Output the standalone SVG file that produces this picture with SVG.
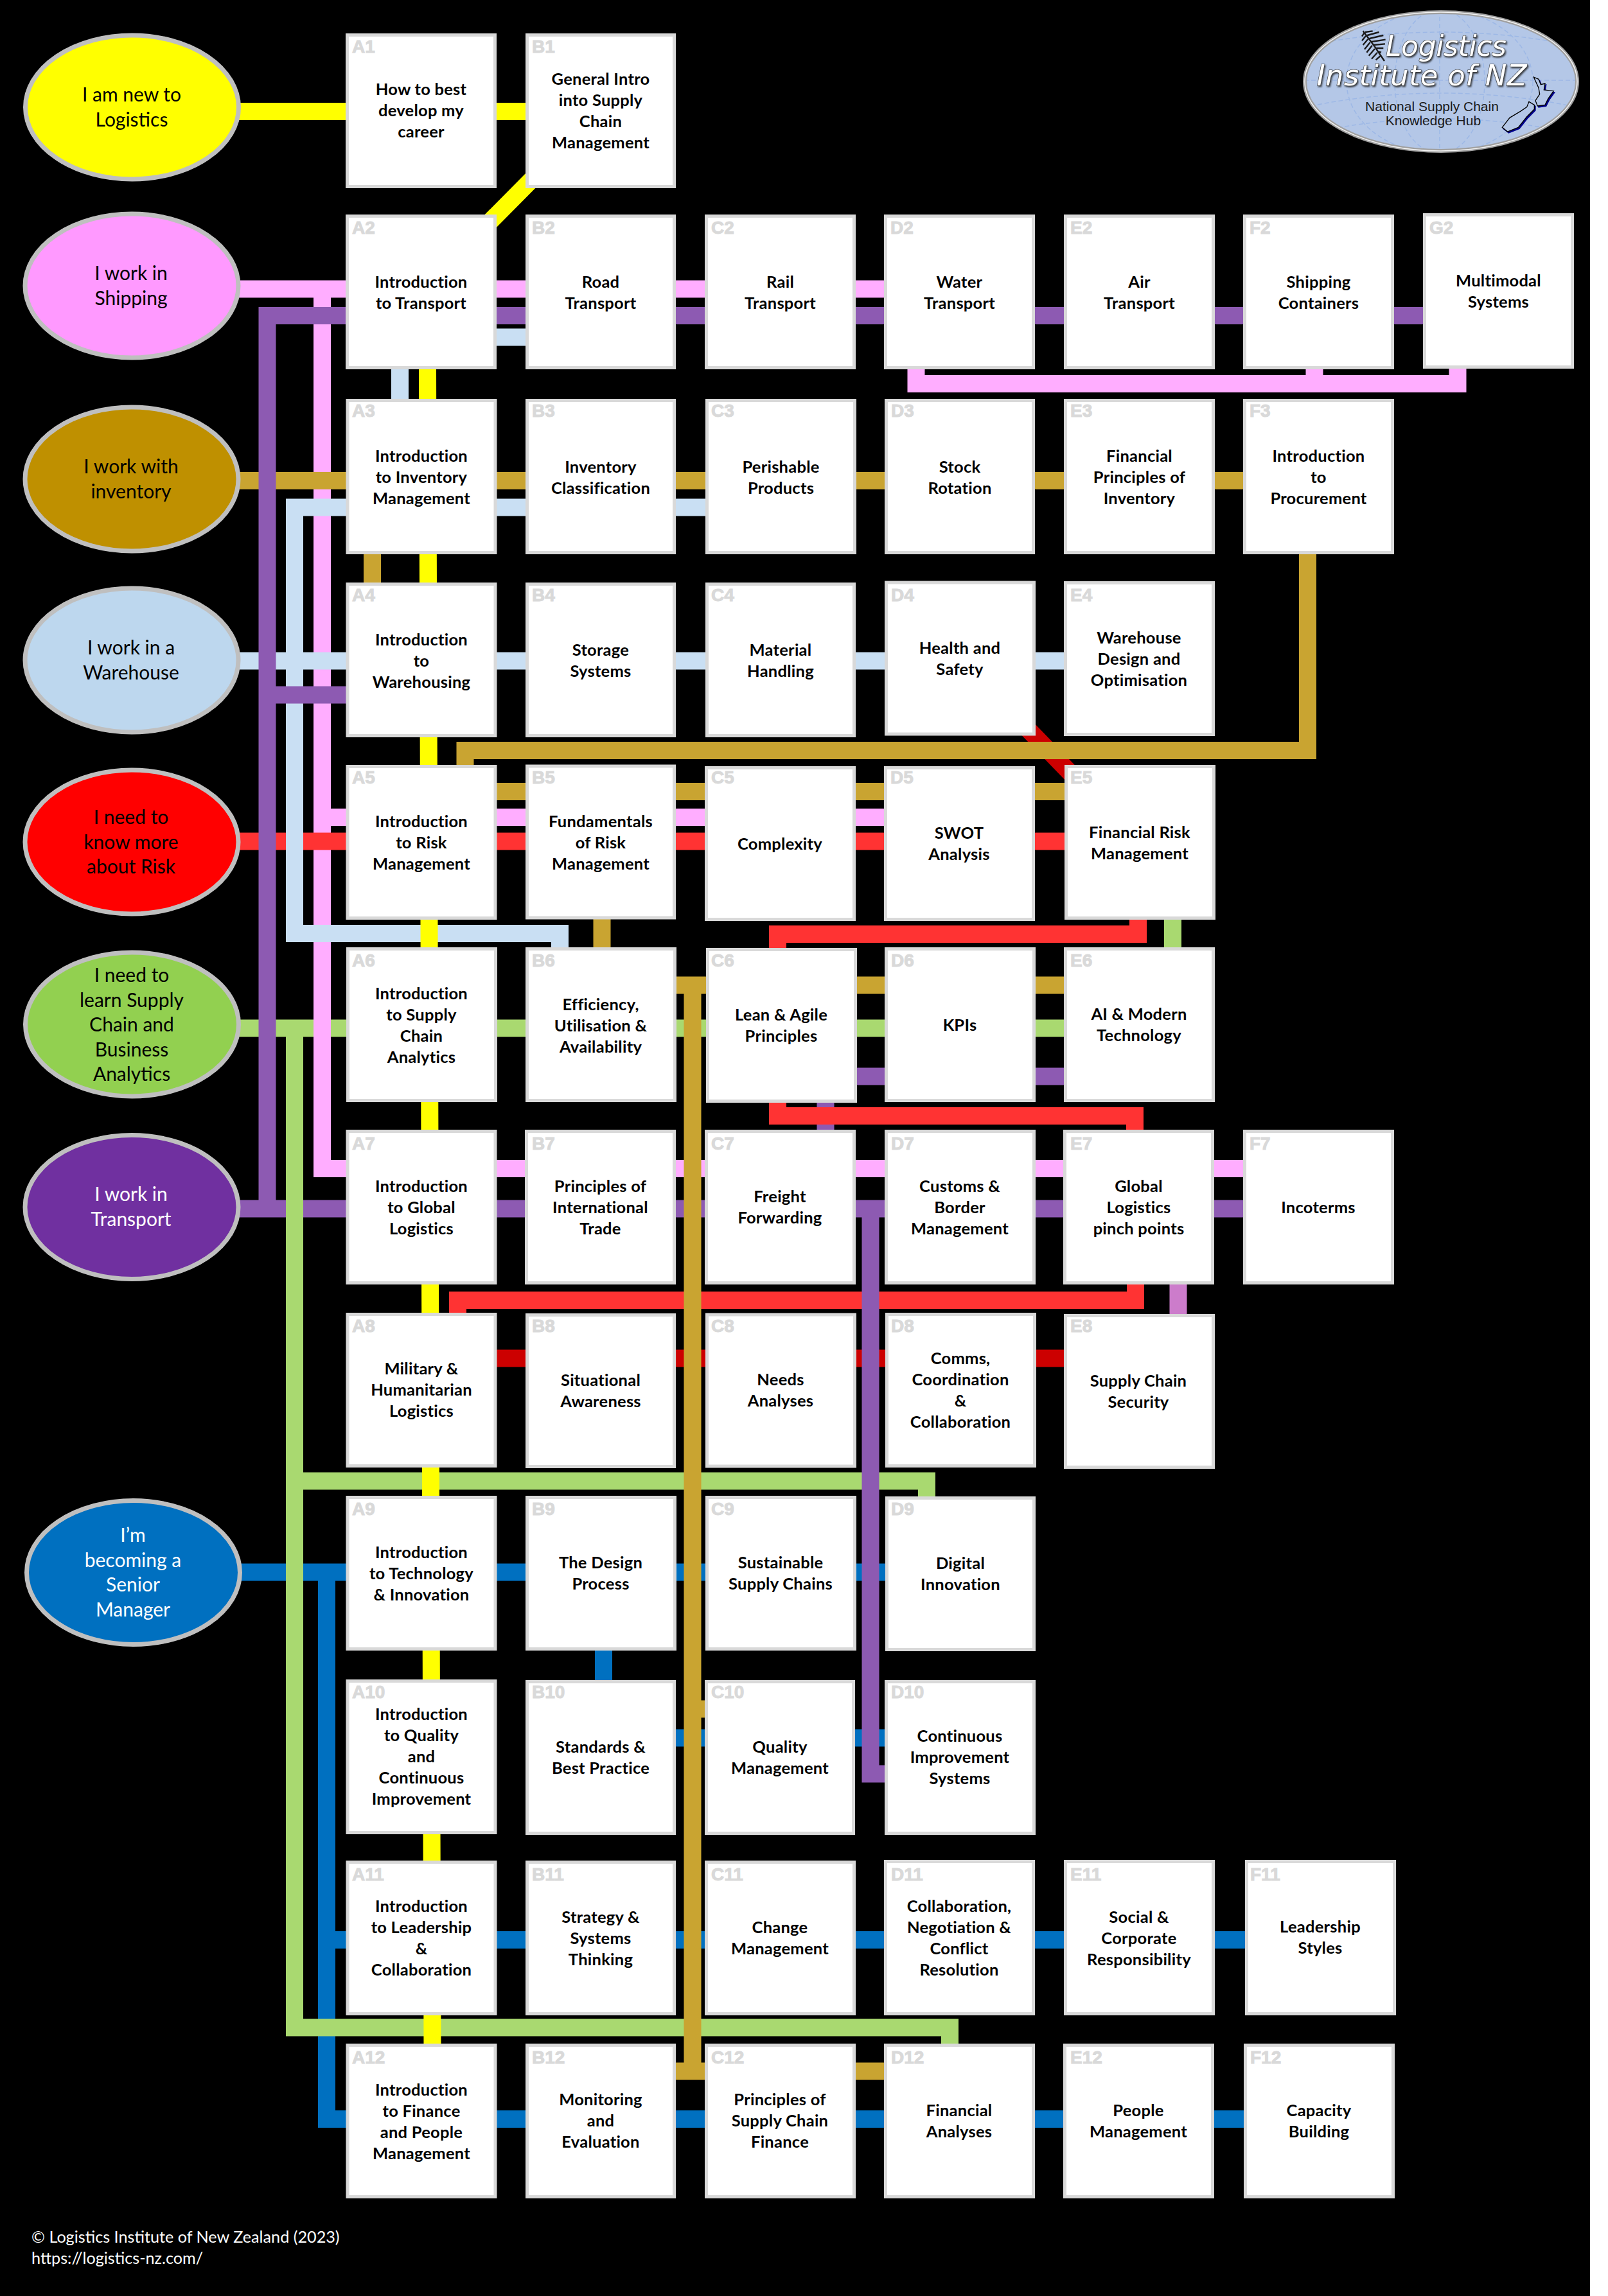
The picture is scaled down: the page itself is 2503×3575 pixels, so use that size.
<svg xmlns="http://www.w3.org/2000/svg" width="2503" height="3575" viewBox="0 0 2503 3575">
<style>
.bg{fill:#000}
.c path{fill:none;stroke-width:27;stroke-linejoin:miter}
.blue{stroke:#0070c0}.green{stroke:#a9d970}.pink{stroke:#ffadff}.red{stroke:#ff3333}.dred{stroke:#cc0000}.gold{stroke:#c9a431}.lblue{stroke:#c9dff3}.purple{stroke:#8d5ab2}.lilac{stroke:#cc7ccb}.yellow{stroke:#ffff00}
.b{fill:#fff;stroke:#d9d9d9;stroke-width:5}
.l{font-family:"Liberation Sans",Arial,sans-serif;font-weight:700;font-size:28px;fill:#d9d9d9;stroke:#d9d9d9;stroke-width:1}
.t{font-family:Lato,"Noto Sans",sans-serif;font-weight:700;font-size:25.5px;letter-spacing:.25px;fill:#000;text-anchor:middle}
.e{stroke:#bfbfbf;stroke-width:7}
.et{font-family:Lato,"Noto Sans",sans-serif;font-size:30px;fill:#000;text-anchor:middle}
.w{fill:#fff}
.f{font-family:Lato,"Noto Sans",sans-serif;font-size:25.2px;fill:#fff}
.g{fill:none;stroke:#9db8e6;stroke-width:1.5;stroke-dasharray:7 4}
.lt{font-family:"DejaVu Sans",sans-serif;font-style:italic;fill:#fff;stroke:#333;stroke-width:1.2;paint-order:stroke;text-anchor:middle}
.ls{font-family:"Liberation Sans",Arial,sans-serif;font-size:21px;fill:#1a1a1a;text-anchor:middle}
</style>
<defs>
<clipPath id="lc"><ellipse cx="2243" cy="127" rx="212" ry="108"/></clipPath>
<filter id="sh" x="-10%" y="-20%" width="120%" height="140%"><feDropShadow dx="1.5" dy="2" stdDeviation="1" flood-color="#222" flood-opacity=".8"/></filter>
</defs>
<rect width="2503" height="3575" fill="#fff"/>
<rect class="bg" width="2475" height="3575"/>

<g id="connectors" class="c">
<path class="blue" d="M370 2448H1390M508.5 2448V3299.5H1950M508.5 3020.5H1950M939.5 2560V2706H1390"/>
<path class="purple" d="M370 1882H1945M1285 1710V1765"/>
<path class="green" d="M370 1601H1670M458.5 1601V3157H1478.5V3190M458.5 2306H1442.5V2340M1825.5 1425V1485"/>
<path class="pink" d="M370 450H1390M501.5 450V1819.5H1945M501.5 1272.5H1390M1426 570V597.5H2269V570M2046 597.5V570"/>
<path class="dred" d="M765 2115H1670M1590 1125L1680 1218"/>
<path class="red" d="M370 1310H1670M1771.5 1425V1454.5H1210.5V1485M1210.5 1710V1737.5H1766.5V1770M1767.5 1990V2024.5H712.5V2055"/>
<path class="gold" d="M370 748.5H1945M579.5 855V915M2035.5 855V1168.5H724V1200M760 1232.5H1670M937 1425V1485"/>
<path class="lblue" d="M1110 790H458.5V1453.5H871.5V1490M370 1029H1670M622.5 570V630M765 525H830"/>
<path class="purple" d="M416 1882V491.5H2225M416 1082H545M1355 1882V2762H1390M1325 1676H1670"/>
<path class="gold" d="M1040 1534H1670M1078 1534V3225M1040 3225H1390M1078 2661H1110"/>
<path class="lilac" d="M1834 1990V2055"/>
<path class="yellow" d="M370 173.5H830M845 262L745 363M665.5 570L673 3190"/>
</g>

<g id="p1"><ellipse class="e" cx="205.500" cy="167" rx="166" ry="112" fill="#ffff00"/><text class="et" x="205" y="158">I am new to<tspan x="205" dy="39">Logistics</tspan></text></g>
<g id="p2"><ellipse class="e" cx="205" cy="445" rx="166" ry="112" fill="#ff99ff"/><text class="et" x="204" y="436">I work in<tspan x="204" dy="39">Shipping</tspan></text></g>
<g id="p3"><ellipse class="e" cx="205" cy="746" rx="166" ry="112" fill="#bf9000"/><text class="et" x="204" y="737">I work with<tspan x="204" dy="39">inventory</tspan></text></g>
<g id="p4"><ellipse class="e" cx="205" cy="1028" rx="166" ry="112" fill="#bdd7ee"/><text class="et" x="204" y="1019">I work in a<tspan x="204" dy="39">Warehouse</tspan></text></g>
<g id="p5"><ellipse class="e" cx="205" cy="1311" rx="166" ry="112" fill="#ff0000"/><text class="et" x="204" y="1283">I need to<tspan x="204" dy="39">know more</tspan><tspan x="204" dy="38">about Risk</tspan></text></g>
<g id="p6"><ellipse class="e" cx="205.500" cy="1595" rx="166" ry="112" fill="#92d050"/><text class="et" x="205" y="1529">I need to<tspan x="205" dy="39">learn Supply</tspan><tspan x="205" dy="38">Chain and</tspan><tspan x="205" dy="39">Business</tspan><tspan x="205" dy="38">Analytics</tspan></text></g>
<g id="p7"><ellipse class="e" cx="205" cy="1879.500" rx="166" ry="112" fill="#7030a0"/><text class="et w" x="204" y="1870">I work in<tspan x="204" dy="39">Transport</tspan></text></g>
<g id="p8"><ellipse class="e" cx="207.500" cy="2448.500" rx="166" ry="112" fill="#0070c0"/><text class="et w" x="207" y="2401">I’m<tspan x="207" dy="39">becoming a</tspan><tspan x="207" dy="38">Senior</tspan><tspan x="207" dy="39">Manager</tspan></text></g>

<g id="A1"><rect class="b" x="540.500" y="54.500" width="230" height="236"/><text class="l" x="548" y="82">A1</text><text class="t" x="655.500" y="148">How to best<tspan x="655.500" dy="33">develop my</tspan><tspan x="655.500" dy="33">career</tspan></text></g>
<g id="B1"><rect class="b" x="820.500" y="54.500" width="229" height="236"/><text class="l" x="828" y="82">B1</text><text class="t" x="935" y="132">General Intro<tspan x="935" dy="33">into Supply</tspan><tspan x="935" dy="33">Chain</tspan><tspan x="935" dy="33">Management</tspan></text></g>

<g id="A2"><rect class="b" x="540.500" y="336.500" width="230" height="236"/><text class="l" x="548" y="364">A2</text><text class="t" x="655.500" y="448">Introduction<tspan x="655.500" dy="33">to Transport</tspan></text></g>
<g id="B2"><rect class="b" x="820.500" y="336.500" width="229" height="236"/><text class="l" x="828" y="364">B2</text><text class="t" x="935" y="448">Road<tspan x="935" dy="33">Transport</tspan></text></g>
<g id="C2"><rect class="b" x="1099.500" y="336.500" width="230" height="236"/><text class="l" x="1107" y="364">C2</text><text class="t" x="1214.500" y="448">Rail<tspan x="1214.500" dy="33">Transport</tspan></text></g>
<g id="D2"><rect class="b" x="1378.500" y="336.500" width="230" height="236"/><text class="l" x="1386" y="364">D2</text><text class="t" x="1493.500" y="448">Water<tspan x="1493.500" dy="33">Transport</tspan></text></g>
<g id="E2"><rect class="b" x="1658.500" y="336.500" width="230" height="236"/><text class="l" x="1666" y="364">E2</text><text class="t" x="1773.500" y="448">Air<tspan x="1773.500" dy="33">Transport</tspan></text></g>
<g id="F2"><rect class="b" x="1937.500" y="336.500" width="230" height="236"/><text class="l" x="1945" y="364">F2</text><text class="t" x="2052.500" y="448">Shipping<tspan x="2052.500" dy="33">Containers</tspan></text></g>
<g id="G2"><rect class="b" x="2217.500" y="334.500" width="230" height="237"/><text class="l" x="2225" y="364">G2</text><text class="t" x="2332.500" y="446">Multimodal<tspan x="2332.500" dy="33">Systems</tspan></text></g>

<g id="A3"><rect class="b" x="541" y="623.500" width="230" height="237"/><text class="l" x="548" y="649">A3</text><text class="t" x="656" y="719">Introduction<tspan x="656" dy="33">to Inventory</tspan><tspan x="656" dy="33">Management</tspan></text></g>
<g id="B3"><rect class="b" x="820.500" y="623.500" width="229" height="237"/><text class="l" x="828" y="649">B3</text><text class="t" x="935" y="736">Inventory<tspan x="935" dy="33">Classification</tspan></text></g>
<g id="C3"><rect class="b" x="1100.500" y="623.500" width="230" height="237"/><text class="l" x="1107" y="649">C3</text><text class="t" x="1215.500" y="736">Perishable<tspan x="1215.500" dy="33">Products</tspan></text></g>
<g id="D3"><rect class="b" x="1379.500" y="623.500" width="229" height="237"/><text class="l" x="1387" y="649">D3</text><text class="t" x="1494" y="736">Stock<tspan x="1494" dy="33">Rotation</tspan></text></g>
<g id="E3"><rect class="b" x="1658.500" y="623.500" width="230" height="237"/><text class="l" x="1666" y="649">E3</text><text class="t" x="1773.500" y="719">Financial<tspan x="1773.500" dy="33">Principles of</tspan><tspan x="1773.500" dy="33">Inventory</tspan></text></g>
<g id="F3"><rect class="b" x="1937.500" y="623.500" width="230" height="237"/><text class="l" x="1945" y="649">F3</text><text class="t" x="2052.500" y="719">Introduction<tspan x="2052.500" dy="33">to</tspan><tspan x="2052.500" dy="33">Procurement</tspan></text></g>

<g id="A4"><rect class="b" x="541" y="909.500" width="230" height="236"/><text class="l" x="548" y="936">A4</text><text class="t" x="656" y="1005">Introduction<tspan x="656" dy="33">to</tspan><tspan x="656" dy="33">Warehousing</tspan></text></g>
<g id="B4"><rect class="b" x="820.500" y="909.500" width="229" height="236"/><text class="l" x="828" y="936">B4</text><text class="t" x="935" y="1021">Storage<tspan x="935" dy="33">Systems</tspan></text></g>
<g id="C4"><rect class="b" x="1100.500" y="909.500" width="229" height="236"/><text class="l" x="1107" y="936">C4</text><text class="t" x="1215" y="1021">Material<tspan x="1215" dy="33">Handling</tspan></text></g>
<g id="D4"><rect class="b" x="1379.500" y="907" width="230" height="236"/><text class="l" x="1387" y="936">D4</text><text class="t" x="1494" y="1018">Health and<tspan x="1494" dy="33">Safety</tspan></text></g>
<g id="E4"><rect class="b" x="1658.500" y="907.500" width="230" height="236"/><text class="l" x="1666" y="936">E4</text><text class="t" x="1773" y="1002">Warehouse<tspan x="1773" dy="33">Design and</tspan><tspan x="1773" dy="33">Optimisation</tspan></text></g>

<g id="A5"><rect class="b" x="541" y="1193.500" width="230" height="236"/><text class="l" x="548" y="1220">A5</text><text class="t" x="656" y="1287.500">Introduction<tspan x="656" dy="33">to Risk</tspan><tspan x="656" dy="33">Management</tspan></text></g>
<g id="B5"><rect class="b" x="820.500" y="1193" width="229" height="236"/><text class="l" x="828" y="1220">B5</text><text class="t" x="935" y="1287.500">Fundamentals<tspan x="935" dy="33">of Risk</tspan><tspan x="935" dy="33">Management</tspan></text></g>
<g id="C5"><rect class="b" x="1099.500" y="1195.500" width="230" height="236"/><text class="l" x="1107" y="1220">C5</text><text class="t" x="1214" y="1322.500">Complexity</text></g>
<g id="D5"><rect class="b" x="1378.500" y="1195.500" width="230" height="236"/><text class="l" x="1386" y="1220">D5</text><text class="t" x="1493" y="1306">SWOT<tspan x="1493" dy="33">Analysis</tspan></text></g>
<g id="E5"><rect class="b" x="1659.500" y="1193.500" width="230" height="236"/><text class="l" x="1666" y="1220">E5</text><text class="t" x="1774" y="1305">Financial Risk<tspan x="1774" dy="33">Management</tspan></text></g>

<g id="A6"><rect class="b" x="541.500" y="1477.500" width="230" height="236"/><text class="l" x="548" y="1505">A6</text><text class="t" x="656" y="1555.500">Introduction<tspan x="656" dy="33">to Supply</tspan><tspan x="656" dy="33">Chain</tspan><tspan x="656" dy="33">Analytics</tspan></text></g>
<g id="B6"><rect class="b" x="820.500" y="1477.500" width="230" height="236"/><text class="l" x="828" y="1505">B6</text><text class="t" x="935" y="1573">Efficiency,<tspan x="935" dy="33">Utilisation &amp;</tspan><tspan x="935" dy="33">Availability</tspan></text></g>
<g id="C6"><rect class="b" x="1101.500" y="1478.500" width="230" height="236"/><text class="l" x="1107" y="1505">C6</text><text class="t" x="1216" y="1589">Lean &amp; Agile<tspan x="1216" dy="33">Principles</tspan></text></g>
<g id="D6"><rect class="b" x="1379.500" y="1477.500" width="230" height="236"/><text class="l" x="1387" y="1505">D6</text><text class="t" x="1494" y="1605">KPIs</text></g>
<g id="E6"><rect class="b" x="1658.500" y="1477.500" width="230" height="236"/><text class="l" x="1666" y="1505">E6</text><text class="t" x="1773" y="1588">AI &amp; Modern<tspan x="1773" dy="33">Technology</tspan></text></g>

<g id="A7"><rect class="b" x="541" y="1761.500" width="230" height="236"/><text class="l" x="548" y="1790">A7</text><text class="t" x="656" y="1856">Introduction<tspan x="656" dy="33">to Global</tspan><tspan x="656" dy="33">Logistics</tspan></text></g>
<g id="B7"><rect class="b" x="819.500" y="1761.500" width="230" height="236"/><text class="l" x="828" y="1790">B7</text><text class="t" x="934.500" y="1856">Principles of<tspan x="934.500" dy="33">International</tspan><tspan x="934.500" dy="33">Trade</tspan></text></g>
<g id="C7"><rect class="b" x="1099.500" y="1761.500" width="230" height="236"/><text class="l" x="1107" y="1790">C7</text><text class="t" x="1214" y="1872">Freight<tspan x="1214" dy="33">Forwarding</tspan></text></g>
<g id="D7"><rect class="b" x="1379.500" y="1761.500" width="230" height="236"/><text class="l" x="1387" y="1790">D7</text><text class="t" x="1494" y="1856">Customs &amp;<tspan x="1494" dy="33">Border</tspan><tspan x="1494" dy="33">Management</tspan></text></g>
<g id="E7"><rect class="b" x="1657.500" y="1761.500" width="230" height="236"/><text class="l" x="1666" y="1790">E7</text><text class="t" x="1772.500" y="1856">Global<tspan x="1772.500" dy="33">Logistics</tspan><tspan x="1772.500" dy="33">pinch points</tspan></text></g>
<g id="F7"><rect class="b" x="1937.500" y="1761.500" width="230" height="236"/><text class="l" x="1945" y="1790">F7</text><text class="t" x="2052" y="1889">Incoterms</text></g>

<g id="A8"><rect class="b" x="541" y="2046.500" width="230" height="236"/><text class="l" x="548" y="2074">A8</text><text class="t" x="656" y="2140">Military &amp;<tspan x="656" dy="33">Humanitarian</tspan><tspan x="656" dy="33">Logistics</tspan></text></g>
<g id="B8"><rect class="b" x="820.500" y="2047.500" width="229" height="236"/><text class="l" x="828" y="2074">B8</text><text class="t" x="935" y="2158">Situational<tspan x="935" dy="33">Awareness</tspan></text></g>
<g id="C8"><rect class="b" x="1100.500" y="2047" width="230" height="236"/><text class="l" x="1107" y="2074">C8</text><text class="t" x="1215" y="2157">Needs<tspan x="1215" dy="33">Analyses</tspan></text></g>
<g id="D8"><rect class="b" x="1380.500" y="2046.500" width="230" height="236"/><text class="l" x="1387" y="2074">D8</text><text class="t" x="1495" y="2124">Comms,<tspan x="1495" dy="33">Coordination</tspan><tspan x="1495" dy="33">&amp;</tspan><tspan x="1495" dy="33">Collaboration</tspan></text></g>
<g id="E8"><rect class="b" x="1658.500" y="2048.500" width="230" height="236"/><text class="l" x="1666" y="2074">E8</text><text class="t" x="1772" y="2159">Supply Chain<tspan x="1772" dy="33">Security</tspan></text></g>

<g id="A9"><rect class="b" x="541" y="2331.500" width="230" height="236"/><text class="l" x="548" y="2359">A9</text><text class="t" x="656" y="2426">Introduction<tspan x="656" dy="33">to Technology</tspan><tspan x="656" dy="33">&amp; Innovation</tspan></text></g>
<g id="B9"><rect class="b" x="820.500" y="2331.500" width="230" height="236"/><text class="l" x="828" y="2359">B9</text><text class="t" x="935" y="2442">The Design<tspan x="935" dy="33">Process</tspan></text></g>
<g id="C9"><rect class="b" x="1100.500" y="2331.500" width="230" height="236"/><text class="l" x="1107" y="2359">C9</text><text class="t" x="1215" y="2442">Sustainable<tspan x="1215" dy="33">Supply Chains</tspan></text></g>
<g id="D9"><rect class="b" x="1380.500" y="2332.500" width="229" height="236"/><text class="l" x="1387" y="2359">D9</text><text class="t" x="1495" y="2443">Digital<tspan x="1495" dy="33">Innovation</tspan></text></g>

<g id="A10"><rect class="b" x="541" y="2617.500" width="230" height="236"/><text class="l" x="548" y="2644">A10</text><text class="t" x="656" y="2678">Introduction<tspan x="656" dy="33">to Quality</tspan><tspan x="656" dy="33">and</tspan><tspan x="656" dy="33">Continuous</tspan><tspan x="656" dy="33">Improvement</tspan></text></g>
<g id="B10"><rect class="b" x="820.500" y="2618.500" width="229" height="236"/><text class="l" x="828" y="2644">B10</text><text class="t" x="935" y="2729">Standards &amp;<tspan x="935" dy="33">Best Practice</tspan></text></g>
<g id="C10"><rect class="b" x="1099.500" y="2618.500" width="229" height="236"/><text class="l" x="1107" y="2644">C10</text><text class="t" x="1214" y="2729">Quality<tspan x="1214" dy="33">Management</tspan></text></g>
<g id="D10"><rect class="b" x="1379.500" y="2618.500" width="230" height="236"/><text class="l" x="1387" y="2644">D10</text><text class="t" x="1494" y="2712">Continuous<tspan x="1494" dy="33">Improvement</tspan><tspan x="1494" dy="33">Systems</tspan></text></g>

<g id="A11"><rect class="b" x="541" y="2899.500" width="230" height="236"/><text class="l" x="548" y="2928">A11</text><text class="t" x="656" y="2977">Introduction<tspan x="656" dy="33">to Leadership</tspan><tspan x="656" dy="33">&amp;</tspan><tspan x="656" dy="33">Collaboration</tspan></text></g>
<g id="B11"><rect class="b" x="820.500" y="2899.500" width="229" height="236"/><text class="l" x="828" y="2928">B11</text><text class="t" x="935" y="2994">Strategy &amp;<tspan x="935" dy="33">Systems</tspan><tspan x="935" dy="33">Thinking</tspan></text></g>
<g id="C11"><rect class="b" x="1099.500" y="2899.500" width="230" height="236"/><text class="l" x="1107" y="2928">C11</text><text class="t" x="1214" y="3010">Change<tspan x="1214" dy="33">Management</tspan></text></g>
<g id="D11"><rect class="b" x="1378.500" y="2898.500" width="230" height="237"/><text class="l" x="1387" y="2928">D11</text><text class="t" x="1493" y="2977">Collaboration,<tspan x="1493" dy="33">Negotiation &amp;</tspan><tspan x="1493" dy="33">Conflict</tspan><tspan x="1493" dy="33">Resolution</tspan></text></g>
<g id="E11"><rect class="b" x="1658.500" y="2898.500" width="230" height="237"/><text class="l" x="1666" y="2928">E11</text><text class="t" x="1773" y="2993.500">Social &amp;<tspan x="1773" dy="33">Corporate</tspan><tspan x="1773" dy="33">Responsibility</tspan></text></g>
<g id="F11"><rect class="b" x="1940.500" y="2898.500" width="230" height="237"/><text class="l" x="1946" y="2928">F11</text><text class="t" x="2055" y="3009">Leadership<tspan x="2055" dy="33">Styles</tspan></text></g>

<g id="A12"><rect class="b" x="541" y="3184.500" width="230" height="236"/><text class="l" x="548" y="3213">A12</text><text class="t" x="656" y="3262.500">Introduction<tspan x="656" dy="33">to Finance</tspan><tspan x="656" dy="33">and People</tspan><tspan x="656" dy="33">Management</tspan></text></g>
<g id="B12"><rect class="b" x="820.500" y="3184.500" width="229" height="236"/><text class="l" x="828" y="3213">B12</text><text class="t" x="935" y="3278">Monitoring<tspan x="935" dy="33">and</tspan><tspan x="935" dy="33">Evaluation</tspan></text></g>
<g id="C12"><rect class="b" x="1099.500" y="3184.500" width="230" height="236"/><text class="l" x="1107" y="3213">C12</text><text class="t" x="1214" y="3278">Principles of<tspan x="1214" dy="33">Supply Chain</tspan><tspan x="1214" dy="33">Finance</tspan></text></g>
<g id="D12"><rect class="b" x="1378.500" y="3184.500" width="230" height="236"/><text class="l" x="1387" y="3213">D12</text><text class="t" x="1493" y="3295">Financial<tspan x="1493" dy="33">Analyses</tspan></text></g>
<g id="E12"><rect class="b" x="1657.500" y="3184.500" width="230" height="236"/><text class="l" x="1666" y="3213">E12</text><text class="t" x="1772" y="3295">People<tspan x="1772" dy="33">Management</tspan></text></g>
<g id="F12"><rect class="b" x="1938.500" y="3184.500" width="230" height="236"/><text class="l" x="1946" y="3213">F12</text><text class="t" x="2053" y="3295">Capacity<tspan x="2053" dy="33">Building</tspan></text></g>

<g id="logo">
<ellipse cx="2243" cy="127" rx="212" ry="108" fill="#b4c7e7"/>
<g clip-path="url(#lc)">
<path class="g" d="M2030 125H2456M2241 15V240"/>
<ellipse class="g" cx="2241" cy="127" rx="70" ry="112"/>
<ellipse class="g" cx="2241" cy="127" rx="145" ry="112"/>
<path class="g" d="M2040 70Q2243 30 2446 70M2040 165Q2243 125 2446 165M2050 205Q2243 165 2436 205"/>
</g>
<ellipse cx="2243" cy="127" rx="212" ry="108" fill="none" stroke="#a0a0a0" stroke-width="6"/>
<ellipse cx="2243" cy="127" rx="212" ry="108" fill="none" stroke="#f2f2f2" stroke-width="1.5"/>
<g transform="translate(2000 0) scale(.33333)">
<path d="M465 285Q420 215 365 145M375 150L410 145M385 165L440 150M395 180L460 165M405 195L470 185M415 210L468 205M425 225L460 225M435 240L450 245M370 155L360 170M378 168L360 190M388 183L365 210M398 198L372 230M408 212L382 245M420 228L392 260M432 245L405 275M445 262L425 280" fill="none" stroke="#1a1a1a" stroke-width="7"/>
<path transform="translate(5 6)" d="M1162 360L1185 370L1195 395L1215 390L1210 420L1255 425L1230 460L1215 490L1180 495L1170 470L1190 440L1185 410ZM1140 475L1165 490L1165 510L1130 545L1090 595L1040 615L1015 595L1050 550L1100 520L1130 500Z" fill="#00008b" stroke="#00008b" stroke-width="4"/>
<path d="M1162 360L1185 370L1195 395L1215 390L1210 420L1255 425L1230 460L1215 490L1180 495L1170 470L1190 440L1185 410ZM1140 475L1165 490L1165 510L1130 545L1090 595L1040 615L1015 595L1050 550L1100 520L1130 500Z" fill="#b4c7e7" stroke="#000" stroke-width="4"/>
</g>
<text class="lt" filter="url(#sh)" x="2251" y="87" font-size="44" textLength="188">Logistics</text>
<text class="lt" filter="url(#sh)" x="2213" y="133" font-size="45" textLength="327">Institute of NZ</text>
<text class="ls" x="2229" y="173">National Supply Chain</text>
<text class="ls" x="2231" y="195">Knowledge Hub</text>
</g>

<text class="f" x="49" y="3492">© Logistics Institute of New Zealand (2023)</text>
<text class="f" x="49" y="3525">https://logistics-nz.com/</text>
</svg>
